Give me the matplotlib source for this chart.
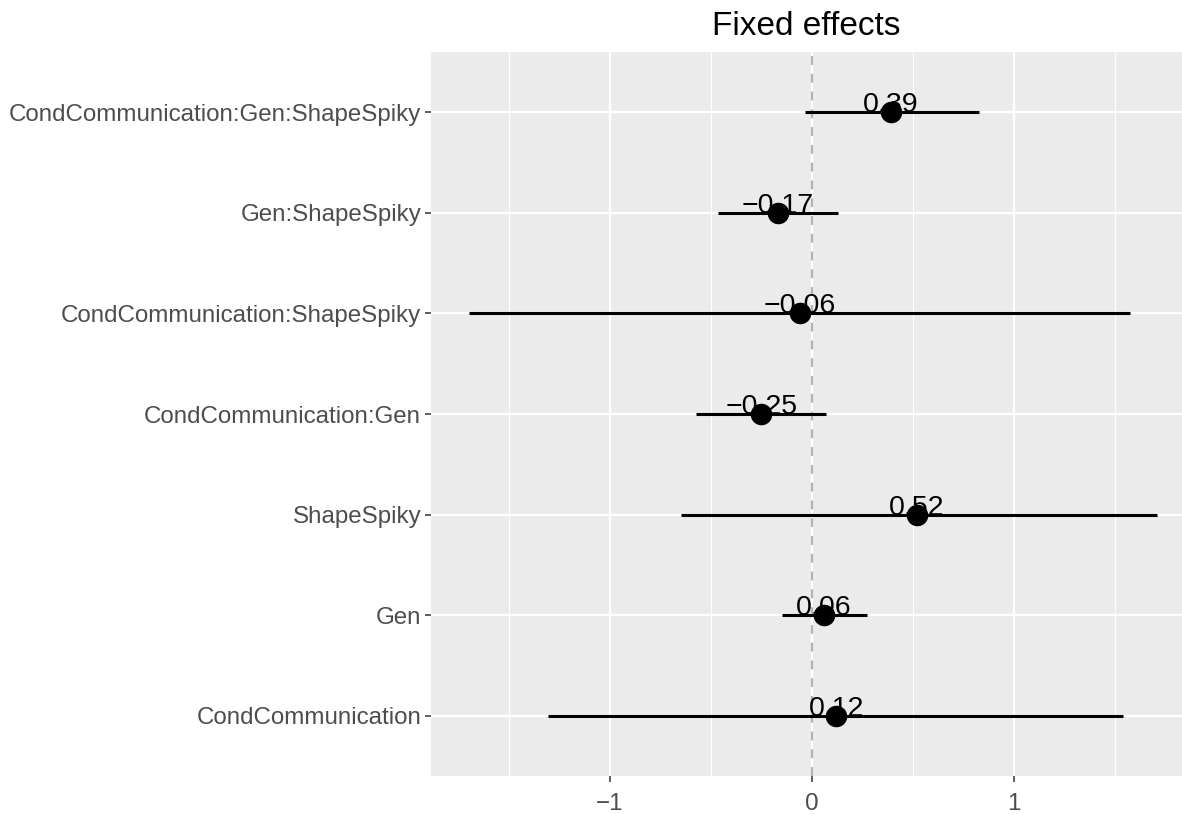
import numpy as np
import matplotlib
matplotlib.use("Agg")
import matplotlib.pyplot as plt

plt.rcParams['font.family'] = ['Liberation Sans', 'DejaVu Sans']

# fixed-effect terms, bottom to top
terms = ["CondCommunication", "Gen", "ShapeSpiky", "CondCommunication:Gen",
         "CondCommunication:ShapeSpiky", "Gen:ShapeSpiky",
         "CondCommunication:Gen:ShapeSpiky"]
estimate = [0.12, 0.06, 0.52, -0.25, -0.06, -0.17, 0.39]
ci_low = [-1.305, -0.149, -0.650, -0.574, -1.697, -0.465, -0.035]
ci_high = [1.540, 0.272, 1.708, 0.069, 1.574, 0.129, 0.827]

fig = plt.figure(figsize=(11.82, 8.14), dpi=100)
ax = fig.add_axes([0.3646, 0.0467, 0.6354, 0.8894])
ax.set_facecolor("#EBEBEB")
for s in ax.spines.values():
    s.set_visible(False)

y = np.arange(len(terms))
ax.set_xlim(-1.886, 1.832)
ax.set_ylim(-0.6, len(terms) - 0.4)

# ggplot-like grid
ax.set_xticks([-1, 0, 1])
ax.set_xticks([-1.5, -0.5, 0.5, 1.5], minor=True)
ax.set_yticks(y)
ax.set_yticklabels(terms)
ax.set_xticklabels(["\u22121", "0", "1"])
ax.grid(which="major", color="white", linewidth=1.6)
ax.grid(which="minor", axis="x", color="white", linewidth=0.8)
ax.set_axisbelow(True)
ax.tick_params(axis="both", which="major", length=4, width=1.1, color="#333333",
               labelsize=17.4, labelcolor="#4D4D4D", pad=3)
ax.tick_params(axis="x", which="major", pad=8)
ax.tick_params(axis="both", which="minor", length=0)

ax.axvline(0, color="#B3B3B3", linestyle=(0, (4, 4)), linewidth=1.6, zorder=1)

ax.hlines(y, ci_low, ci_high, color="black", linewidth=2.2, zorder=2)
ax.plot(estimate, y, "o", color="black", markersize=14.5, zorder=3)
for xi, yi in zip(estimate, y):
    ax.text(xi, yi, f"{xi:.2f}".replace("-", "\u2212"), ha="center", va="baseline",
            fontsize=20.5, color="black", zorder=4)

ax.set_title("Fixed effects", fontsize=24, pad=12)

fig.savefig("out.png", dpi=100)
